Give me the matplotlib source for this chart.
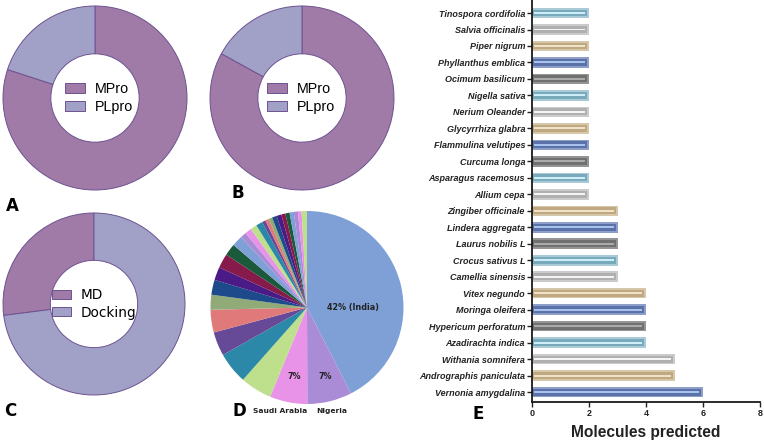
import matplotlib
matplotlib.use("Agg")
import matplotlib.pyplot as plt
import numpy as np

W, H = 764, 446

# ---------------- data ----------------
a_labels = ["MPro", "PLpro"]
a_values = [80, 20]
b_labels = ["MPro", "PLpro"]
b_values = [83, 17]
c_labels = ["MD", "Docking"]
c_values = [27, 73]

d_values = [42.5, 7.5, 6.3, 5.3, 5.3, 4.0, 3.8, 2.5, 2.5, 2.2, 2.4, 2.0, 1.8,
            1.0, 1.1, 1.1, 1.1, 0.6, 0.6, 0.6, 0.8, 0.8, 0.7, 0.7, 0.7, 0.7, 0.6, 0.9]
d_palette = ['#7ea0d6', '#a98bd6', '#e892e8', '#bedf8c', '#2b88a8', '#664a98',
             '#e07a7a', '#90aa78', '#1c4a8a', '#4a1a86', '#861a4a', '#1a5a3a']

plants = ["Vernonia amygdalina", "Andrographis paniculata", "Withania somnifera",
          "Azadirachta indica", "Hypericum perforatum", "Moringa oleifera",
          "Vitex negundo", "Camellia sinensis", "Crocus sativus L", "Laurus nobilis L",
          "Lindera aggregata", "Zingiber officinale", "Allium cepa",
          "Asparagus racemosus", "Curcuma longa", "Flammulina velutipes",
          "Glycyrrhiza glabra", "Nerium Oleander", "Nigella sativa",
          "Ocimum basilicum", "Phyllanthus emblica", "Piper nigrum",
          "Salvia officinalis", "Tinospora cordifolia"]
molecules = [6, 5, 5, 4, 4, 4, 4, 3, 3, 3, 3, 3, 2, 2, 2, 2, 2, 2, 2, 2, 2, 2, 2, 2]
x_ticks = [0, 2, 4, 6, 8]

MPRO = '#a07ba8'
PLPRO = '#a1a1c7'
EDGE = '#6e5290'

fig = plt.figure(figsize=(W / 100, H / 100), dpi=100)


def px_axes(cx, cy, r):
    return fig.add_axes([(cx - r) / W, (H - cy - r) / H, 2 * r / W, 2 * r / H])


def donut(cx, cy, r, values, labels, colors, counterclock, leg_x, leg_font):
    ax = px_axes(cx, cy, r)
    wedges, _ = ax.pie(values, colors=colors, startangle=90, counterclock=counterclock,
                       radius=1, wedgeprops=dict(width=0.52, edgecolor=EDGE, linewidth=0.7))
    ax.set_xlim(-1, 1)
    ax.set_ylim(-1, 1)
    ax.axis('off')
    ax.legend(wedges, labels,
              loc='center left', bbox_to_anchor=(leg_x, 0.5), frameon=False,
              prop=leg_font, handlelength=1.4, handleheight=0.65,
              handletextpad=0.7, labelspacing=0.25, borderpad=0, borderaxespad=0)
    return ax


lib = dict(family='Liberation Sans', size=10.3)
dej = dict(family='DejaVu Sans', size=9.8)

donut(95, 98, 92, a_values, a_labels, [MPRO, PLPRO], False, 0.337, lib)
donut(302, 98, 92, b_values, b_labels, [MPRO, PLPRO], False, 0.31, lib)
donut(94, 304, 91, c_values, c_labels, [MPRO, PLPRO], True, 0.27, dej)

# ---------------- panel D ----------------
axd = px_axes(307, 307.5, 96.5)
d_colors = [d_palette[i % len(d_palette)] for i in range(len(d_values))]
axd.pie(d_values, colors=d_colors, startangle=90, counterclock=False, radius=1,
        wedgeprops=dict(linewidth=0))
axd.set_xlim(-1, 1)
axd.set_ylim(-1, 1)
axd.axis('off')
bf = dict(family='DejaVu Sans', weight='bold', color='#222222')
axd.text(0.48, 0.0, "42% (India)", ha='center', va='center', fontsize=5.8, **bf)
axd.text(0.19, -0.71, "7%", ha='center', va='center', fontsize=5.8, **bf)
axd.text(-0.135, -0.71, "7%", ha='center', va='center', fontsize=5.8, **bf)
fig.text(280 / W, 1 - 411 / H, "Saudi Arabia", ha='center', va='center', fontsize=5.4, **bf)
fig.text(332 / W, 1 - 411 / H, "Nigeria", ha='center', va='center', fontsize=5.4, **bf)

# panel letters
lf = dict(family='DejaVu Sans', weight='bold', fontsize=12, ha='center', va='center', color='black')
fig.text(12 / W, 1 - 206 / H, "A", **lf)
fig.text(238 / W, 1 - 193 / H, "B", **lf)
fig.text(10 / W, 1 - 411 / H, "C", **lf)
fig.text(239 / W, 1 - 411 / H, "D", **lf)
fig.text(478 / W, 1 - 414 / H, "E", **lf)

# ---------------- panel E ----------------
axe = fig.add_axes([532 / W, (H - 402) / H, 228 / W, 402 / H])
cyc = [
    ('#8d9fc8', '#5a72a8', '#a8c2ee'),  # blue
    ('#d6c7ab', '#c0a880', '#efe2c8'),  # tan
    ('#cbcbcb', '#b0b0b0', '#f4f4f4'),  # gray
    ('#a9cad6', '#78aabb', '#cdeef8'),  # teal
    ('#959595', '#707070', '#ababab'),  # dark gray
]
ypos = np.arange(len(plants))
vals = np.array(molecules, dtype=float)
for i, (yy, v) in enumerate(zip(ypos, vals)):
    outer, inner, center = cyc[i % 5]
    axe.barh(yy, v, height=0.64, color=outer, linewidth=0, zorder=2)
    axe.barh(yy, v - 0.07, left=0.0, height=0.42, color=inner, linewidth=0, zorder=3)
    axe.barh(yy, v - 0.2, left=0.06, height=0.12, color=center, linewidth=0, zorder=4)
axe.set_xlim(0, 8)
axe.set_ylim(-0.6, len(plants) - 1 + 0.79)
axe.set_yticks(ypos)
axe.set_yticklabels(plants, family='Liberation Sans', style='italic', weight='bold',
                    fontsize=6.5, color='#222222')
axe.set_xticks(x_ticks)
axe.set_xticklabels([str(t) for t in x_ticks], family='Liberation Sans', weight='bold',
                    fontsize=6.5, color='#222222')
axe.tick_params(axis='both', length=3.5, width=1, color='#222222', pad=1.5)
for s in ['top', 'right']:
    axe.spines[s].set_visible(False)
for s in ['left', 'bottom']:
    axe.spines[s].set_linewidth(1.3)
    axe.spines[s].set_color('#1a1a1a')
    axe.spines[s].set_zorder(5)
axe.set_xlabel("Molecules predicted", family='Liberation Sans', weight='bold',
               fontsize=11.2, color='#222222', labelpad=5)

fig.savefig("out.png", dpi=100)
